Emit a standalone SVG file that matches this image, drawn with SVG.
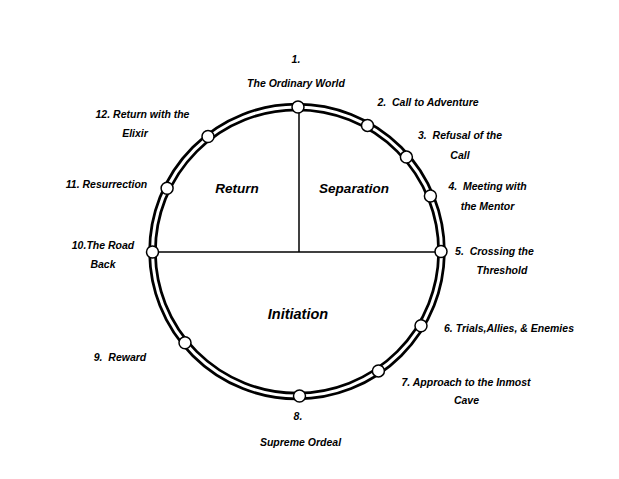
<svg xmlns="http://www.w3.org/2000/svg" width="619" height="479" viewBox="0 0 619 479">
<style>
text{font-family:"Liberation Sans",Arial,sans-serif;font-weight:bold;font-style:italic;font-size:10.5px;fill:#000;text-anchor:middle;white-space:pre}
.big{font-size:13.5px}
.node{fill:#fff;stroke:#000;stroke-width:1.5}
.line{stroke:#000;stroke-width:1.5;fill:none}
</style>
<rect width="619" height="479" fill="#fff"/>
<g id="connectors">
<circle cx="297" cy="251.5" r="144.5" fill="none" stroke="#000" stroke-width="8.5"/>
<circle cx="297" cy="251.5" r="144.5" fill="none" stroke="#fff" stroke-width="3"/>
<line class="line" x1="299" y1="107" x2="299" y2="252"/>
<line class="line" x1="152.5" y1="252" x2="441" y2="252"/>
</g>
<g id="sections">
<text class="big" x="237" y="193">Return</text>
<text class="big" x="354" y="193">Separation</text>
<text class="big" x="298" y="319" style="font-size:14.5px">Initiation</text>
</g>
<g id="n1"><circle class="node" cx="298" cy="107" r="6"/><text x="296" y="63">1.</text><text x="296" y="87">The Ordinary World</text></g>
<g id="n2"><circle class="node" cx="367.5" cy="125.4" r="6"/><text x="428" y="106" xml:space="preserve">2.  Call to Adventure</text></g>
<g id="n3"><circle class="node" cx="406.4" cy="157.1" r="6"/><text x="460" y="139" xml:space="preserve">3.  Refusal of the</text><text x="460" y="159">Call</text></g>
<g id="n4"><circle class="node" cx="430.4" cy="196" r="6"/><text x="487.5" y="190" xml:space="preserve">4.  Meeting with</text><text x="487.5" y="210">the Mentor</text></g>
<g id="n5"><circle class="node" cx="441" cy="251.5" r="6"/><text x="494.5" y="255" xml:space="preserve">5.  Crossing the</text><text x="502" y="274">Threshold</text></g>
<g id="n6"><circle class="node" cx="421" cy="325.7" r="6"/><text x="509" y="332">6. Trials,Allies, &amp; Enemies</text></g>
<g id="n7"><circle class="node" cx="378.4" cy="370.9" r="6"/><text x="466" y="385.5">7. Approach to the Inmost</text><text x="466.5" y="404">Cave</text></g>
<g id="n8"><circle class="node" cx="299.5" cy="396" r="6"/><text x="298" y="420">8.</text><text x="300.5" y="446">Supreme Ordeal</text></g>
<g id="n9"><circle class="node" cx="185" cy="342.8" r="6"/><text x="120" y="361" xml:space="preserve">9.  Reward</text></g>
<g id="n10"><circle class="node" cx="152.5" cy="252" r="6"/><text x="103" y="249">10.The Road</text><text x="103" y="268">Back</text></g>
<g id="n11"><circle class="node" cx="167.1" cy="188.2" r="6"/><text x="106.5" y="188">11. Resurrection</text></g>
<g id="n12"><circle class="node" cx="208" cy="136.5" r="6"/><text x="142.5" y="118">12. Return with the</text><text x="135" y="137">Elixir</text></g>
</svg>
